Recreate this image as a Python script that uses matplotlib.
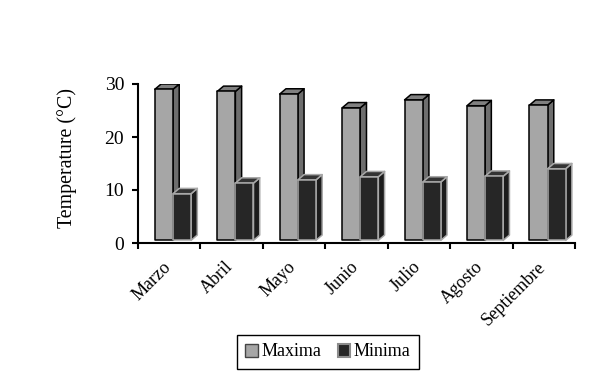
"""Monthly max/min temperature, fake-3D column chart."""
import matplotlib
matplotlib.use("Agg")
import matplotlib.pyplot as plt
from matplotlib.patches import Patch, Polygon

plt.rcParams["font.family"] = ["Liberation Serif", "DejaVu Serif"]

MONTHS = ["Marzo", "Abril", "Mayo", "Junio", "Julio", "Agosto", "Septiembre"]
MAXIMA = [29.0, 28.6, 28.1, 25.5, 27.0, 25.9, 26.0]
MINIMA = [9.3, 11.3, 11.9, 12.5, 11.5, 12.6, 14.0]

W, H = 606, 384
BAR_W = 0.29       # one column, in category units
OFFSET = 0.27      # gap from tick to first column
DX, DY = 0.1, 1.0  # depth of the extrusion (x in categories, y in degrees)
BASE = 0.5


def column(ax, x, val, front, side, top, edge, lw=1.1):
    x1 = x + BAR_W
    ax.add_patch(Polygon([(x1, BASE), (x1 + DX, BASE + DY), (x1 + DX, val + DY), (x1, val)],
                         fc=side, ec=edge, lw=lw, joinstyle="round"))
    ax.add_patch(Polygon([(x, val), (x + DX, val + DY), (x1 + DX, val + DY), (x1, val)],
                         fc=top, ec=edge, lw=lw, joinstyle="round"))
    ax.add_patch(Polygon([(x, BASE), (x, val), (x1, val), (x1, BASE)],
                         fc=front, ec=edge, lw=lw, joinstyle="round"))


fig = plt.figure(figsize=(W / 100, H / 100), dpi=100)
ax = fig.add_axes([138 / W, 1 - 243 / H, (575 - 138) / W, (243 - 84) / H])

for i, (hi, lo) in enumerate(zip(MAXIMA, MINIMA)):
    column(ax, i + OFFSET, hi, "#a6a6a6", "#6e6e6e", "#808080", "black")
    column(ax, i + OFFSET + BAR_W, lo, "#262626", "#1c1c1c", "#333333", "#a8a8a8")

ax.set_xlim(0, len(MONTHS))
ax.set_ylim(0, 30)
ax.set_yticks([0, 10, 20, 30])
ax.set_xticks(range(len(MONTHS) + 1))
ax.set_xticklabels([])
for i, m in enumerate(MONTHS):
    ax.annotate(m, (i + 0.5, 0), xytext=(-5, -11), textcoords="offset points",
                rotation=45, ha="right", va="top", rotation_mode="anchor",
                fontsize=13, annotation_clip=False)

ax.tick_params(axis="y", direction="out", length=4, width=1.5, labelsize=14, pad=6)
ax.tick_params(axis="x", direction="out", length=4, width=1.5)
for s in ("top", "right"):
    ax.spines[s].set_visible(False)
for s in ("left", "bottom"):
    ax.spines[s].set_linewidth(1.5)
ax.set_ylabel("Temperature (°C)", fontsize=14.3, labelpad=20, y=0.535)

handles = [Patch(fc="#a6a6a6", ec="#444444", lw=1.0, label="Maxima"),
           Patch(fc="#262626", ec="#8c8c8c", lw=1.5, label="Minima")]
leg = fig.legend(handles=handles, loc="center", ncol=2, fontsize=13,
                 bbox_to_anchor=(328 / W, 1 - 352 / H), fancybox=False, framealpha=1,
                 edgecolor="black", handlelength=0.7, handleheight=0.7,
                 handletextpad=0.2, columnspacing=0.9, borderpad=0.45, borderaxespad=0)
leg.get_frame().set_linewidth(1.0)

fig.savefig("out.png", dpi=100)
